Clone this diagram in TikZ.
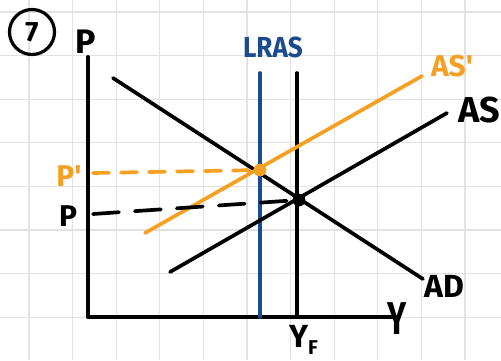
\documentclass[tikz,border=0pt]{standalone}
\usepackage{fontspec}
\setmainfont{Fira Sans}
\definecolor{asorange}{HTML}{F5A023}
\definecolor{lrasblue}{HTML}{1B4B8F}
\definecolor{gridgrey}{HTML}{E2E2E2}
\begin{document}
\begin{tikzpicture}[x=1pt,y=-1pt,
  gridline/.style={gridgrey, line width=1.3pt},
  axisline/.style={black, line width=4pt, line cap=round, line join=round},
  curveline/.style={line width=3.7pt, line cap=round},
  dashedline/.style={line width=3.7pt, line cap=round},
  lbl/.style={inner sep=0pt, font=\fontsize{#1}{#1}\selectfont\bfseries},
  dot/.style={circle, fill, inner sep=0pt, minimum size=12.5pt}]
\useasboundingbox (0,0) rectangle (501,360);
\fill[white] (0,0) rectangle (501,360);
\foreach \i in {0,...,10} \draw[gridline] ({29+43.6*\i},0) -- ({29+43.6*\i},360);
\foreach \j in {0,...,7} \draw[gridline] (0,{12+43.6*\j}) -- (501,{12+43.6*\j});

% number
\node[draw, circle, line width=3.2pt, minimum size=45pt, inner sep=0pt, lbl=28] (num) at (32,32) {7};

% coordinates
\coordinate (ytop) at (88,57);
\coordinate (origin) at (88,317);
\coordinate (xend) at (396,317);
\coordinate (lrasT) at (260,73);
\coordinate (lrasB) at (260,317);
\coordinate (yfT) at (297,73);
\coordinate (yfB) at (297,317);
\coordinate (adA) at (113,78);
\coordinate (adB) at (423,279);
\coordinate (asA) at (170,272);
\coordinate (asB) at (447,113);
\coordinate (aspA) at (145,233);
\coordinate (aspB) at (422,76);
\coordinate (ppL) at (93,173);
\coordinate (pL) at (93,214);

% axes
\draw[axisline] (ytop) -- (origin) -- (xend);
\node[lbl=46] (ylab) at (397,319) {\scalebox{0.7}[1]{Y}};
\node[lbl=34] (plab) at (86,42) {P};

% verticals
\draw[curveline, lrasblue] (lrasT) -- (lrasB);
\draw[curveline, black] (yfT) -- (yfB);
\node[lbl=29, text=lrasblue] (lras) at (273,47) {\scalebox{0.9}[1]{LRAS}};
\node[lbl=32, anchor=north west] (yf) at (289,325) {Y\raisebox{-7pt}{\fontsize{20}{20}\selectfont F}};

% AD and AS
\draw[curveline, black] (adA) -- (adB);
\draw[curveline, black] (asA) -- (asB);
\node[lbl=32] (adlab) at (444,286) {AD};
\node[lbl=36] (aslab) at (479,110) {AS};

% AS'
\draw[curveline, asorange] (aspA) -- (aspB);
\node[lbl=30, text=asorange] (asplab) at (452,66) {AS\textquotesingle};

% equilibria
\node[dot, fill=asorange] (e1) at (260,170) {};
\node[dot, fill=black] (e0) at (299,200) {};

% dashed
\draw[dashedline, asorange, dash pattern=on 16pt off 12pt] (ppL) -- (e1.center);
\draw[dashedline, black, dash pattern=on 26pt off 16pt] (pL) -- (e0.center);
\node[dot, fill=asorange] at (e1) {};
\node[dot, fill=black] at (e0) {};

\node[lbl=30, text=asorange] (pplab) at (69,176) {P\textquotesingle};
\node[lbl=30] (p0lab) at (68,216) {P};
\end{tikzpicture}
\end{document}
